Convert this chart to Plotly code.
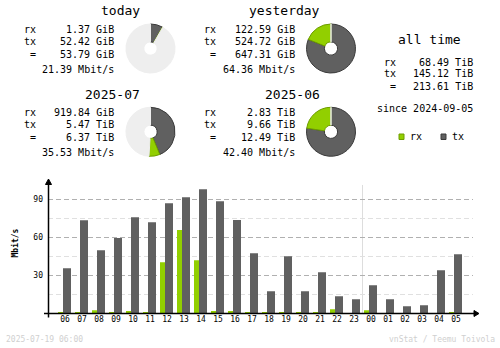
import plotly.graph_objects as go

# ---------------- data ----------------
hours = ["06","07","08","09","10","11","12","13","14","15","16","17",
         "18","19","20","21","22","23","00","01","02","03","04","05"]
rx_mbit = [1.0, 1.0, 2.4, 1.0, 1.8, 1.0, 40.3, 65.8, 41.8, 1.8, 1.8, 1.0,
           1.0, 1.0, 0.3, 1.0, 3.2, 0.2, 2.4, 0.1, 0.1, 0.1, 0.2, 1.0]
tx_mbit = [35.5, 73.4, 49.7, 59.5, 75.8, 71.9, 86.9, 91.6, 97.9, 88.4, 73.7, 47.4,
           17.4, 45.0, 17.4, 32.4, 13.4, 11.1, 22.1, 11.1, 5.5, 6.3, 34.0, 46.6]
y_ticks = [30, 60, 90]
y_minor = [15, 45, 75]

block_titles = ["today", "yesterday", "2025-07", "2025-06"]
block_rx = ["1.37 GiB", "122.59 GiB", "919.84 GiB", "2.83 TiB"]
block_tx = ["52.42 GiB", "524.72 GiB", "5.47 TiB", "9.66 TiB"]
block_total = ["53.79 GiB", "647.31 GiB", "6.37 TiB", "12.49 TiB"]
block_rate = ["21.39 Mbit/s", "64.36 Mbit/s", "35.53 Mbit/s", "42.40 Mbit/s"]
# values in GiB for the donuts
block_rx_gib = [1.37, 122.59, 919.84, 2.83 * 1024]
block_tx_gib = [52.42, 524.72, 5.47 * 1024, 9.66 * 1024]
# donut reference (previous period total)
block_ref_gib = [647.31, 647.31, 12.49 * 1024, 12.49 * 1024]

alltime_rx = "68.49 TiB"
alltime_tx = "145.12 TiB"
alltime_total = "213.61 TiB"
alltime_since = "since 2024-09-05"
stamp = "2025-07-19 06:00"
credit = "vnStat / Teemu Toivola"

# ---------------- styles ----------------
W, H = 500, 348
RX = "#92CF00"
TX = "#606060"
RXD = "#6E9C00"
TXD = "#3A3A3A"
PIEBG = "#EEEEEE"
MONO = "DejaVu Sans Mono"


def X(px):
    return px / W


def Y(py):
    return 1 - py / H


fig = go.Figure()

# bars
fig.add_trace(go.Bar(x=list(range(len(hours))), y=rx_mbit, marker_color=RX,
                     marker_line_width=0, width=5 / 17, offset=-7 / 17, name="rx"))
fig.add_trace(go.Bar(x=list(range(len(hours))), y=tx_mbit, marker_color=TX,
                     marker_line_width=0, width=8 / 17, offset=-2 / 17, name="tx"))

annotations = []
shapes = []

# blocks
col_dx = [0, 180.5, 0, 180.5]
row_dy = [0, 0, 83.3, 83.3]
for k in range(4):
    dx, dy = col_dx[k], row_dy[k]
    fnt = dict(family=MONO, size=10, color="black")
    annotations.append(dict(x=X(141.5 + dx), y=Y(10.7 + dy), text=block_titles[k],
                            xanchor="right", yanchor="middle",
                            font=dict(family=MONO, size=13, color="black")))
    rows = [("rx", block_rx[k]), ("tx", block_tx[k]), ("=", block_total[k])]
    ys = [29, 41.5, 54.2]
    for (lab, val), yy in zip(rows, ys):
        annotations.append(dict(x=X(37.5 + dx), y=Y(yy + dy), text=lab,
                                xanchor="right", yanchor="middle", font=fnt))
        annotations.append(dict(x=X(116 + dx), y=Y(yy + dy), text=val,
                                xanchor="right", yanchor="middle", font=fnt))
    annotations.append(dict(x=X(116 + dx), y=Y(69.2 + dy), text=block_rate[k],
                            xanchor="right", yanchor="middle", font=fnt))
    # donut
    rem = max(block_ref_gib[k] - block_rx_gib[k] - block_tx_gib[k], 0)
    cx, cy, d = 150.5 + dx, 48.5 + dy, 49
    fig.add_trace(go.Pie(values=[block_tx_gib[k], block_rx_gib[k], rem],
                         marker=dict(colors=[TX, RX, PIEBG],
                                     line=dict(color=[TXD, RXD, PIEBG], width=1)),
                         hole=0.27, sort=False, direction="clockwise", rotation=0,
                         textinfo="none", showlegend=False,
                         domain=dict(x=[X(cx - d / 2), X(cx + d / 2)],
                                     y=[Y(cy + d / 2), Y(cy - d / 2)])))

# all time block
fnt = dict(family=MONO, size=10, color="black")
annotations.append(dict(x=X(429), y=Y(40), text="all time", xanchor="center", yanchor="middle",
                        font=dict(family=MONO, size=13, color="black")))
for (lab, val), yy in zip([("rx", alltime_rx), ("tx", alltime_tx), ("=", alltime_total)],
                          [62.3, 73.5, 86.5]):
    annotations.append(dict(x=X(397.5), y=Y(yy), text=lab, xanchor="right", yanchor="middle", font=fnt))
    annotations.append(dict(x=X(475), y=Y(yy), text=val, xanchor="right", yanchor="middle", font=fnt))
annotations.append(dict(x=X(475), y=Y(108.3), text=alltime_since, xanchor="right",
                        yanchor="middle", font=fnt))
# legend
for lab, col, dcol, sx in [("rx", RX, RXD, 399), ("tx", TX, TXD, 441)]:
    shapes.append(dict(type="rect", xref="paper", yref="paper",
                       x0=X(sx), x1=X(sx + 5), y0=Y(139.5), y1=Y(134),
                       fillcolor=col, line=dict(color=dcol, width=1)))
    annotations.append(dict(x=X(sx + 9), y=Y(136.5), text=lab, xanchor="left",
                            yanchor="middle", font=fnt))

# axis title
annotations.append(dict(x=X(14.5), y=Y(243), text="<b>Mbit/s</b>", textangle=-90,
                        xanchor="center", yanchor="middle",
                        font=dict(family=MONO, size=8, color="black")))
# footer
annotations.append(dict(x=X(4), y=Y(339), text=stamp, xanchor="left", yanchor="middle",
                        font=dict(family=MONO, size=8, color="#D0D0D0")))
annotations.append(dict(x=X(497), y=Y(339), text=credit, xanchor="right", yanchor="middle",
                        font=dict(family=MONO, size=8, color="#D0D0D0")))

for a in annotations:
    a.setdefault("xref", "paper")
    a.setdefault("yref", "paper")
    a["showarrow"] = False

# day separator between 23 and 00
sep = hours.index("00") - 0.5
shapes.append(dict(type="line", xref="x", yref="y domain", x0=sep, x1=sep, y0=0, y1=0.97,
                   line=dict(color="#DDDDDD", width=1), layer="below"))
# axes lines and arrows
shapes.append(dict(type="line", xref="paper", yref="paper", x0=X(48.5), x1=X(48.5),
                   y0=Y(317.5), y1=Y(183), line=dict(color="black", width=1.5)))
shapes.append(dict(type="line", xref="paper", yref="paper", x0=X(44), x1=X(475),
                   y0=Y(313.5), y1=Y(313.5), line=dict(color="black", width=1.5)))
shapes.append(dict(type="path", xref="paper", yref="paper",
                   path=f"M {X(45.5)} {Y(184.5)} L {X(51.5)} {Y(184.5)} L {X(48.5)} {Y(179)} Z",
                   fillcolor="black", line=dict(color="black", width=1)))
shapes.append(dict(type="path", xref="paper", yref="paper",
                   path=f"M {X(474)} {Y(310.5)} L {X(474)} {Y(316.5)} L {X(479)} {Y(313.5)} Z",
                   fillcolor="black", line=dict(color="black", width=1)))

fig.update_layout(
    width=W, height=H, margin=dict(l=0, r=0, t=0, b=0),
    paper_bgcolor="white", plot_bgcolor="white",
    barmode="overlay", showlegend=False,
    annotations=annotations, shapes=shapes,
    xaxis=dict(domain=[X(48), X(473)], range=[-1, 24], tickmode="array",
               tickvals=list(range(len(hours))), ticktext=hours, showgrid=False,
               zeroline=False, showline=False, ticks="",
               tickfont=dict(family=MONO, size=8, color="black")),
    yaxis=dict(domain=[Y(313.3), Y(181)], range=[0, 104.4], tickmode="array",
               tickvals=y_ticks, showgrid=True, gridcolor="#B0B0B0", griddash="5px,3px",
               gridwidth=1, zeroline=False, showline=False, ticks="",
               ticklabelstandoff=4,
               tickfont=dict(family=MONO, size=8, color="black"),
               minor=dict(tickmode="array", tickvals=y_minor, showgrid=True,
                          gridcolor="#E0E0E0", griddash="5px,3px", gridwidth=1)),
)

fig.write_html("out.html")
